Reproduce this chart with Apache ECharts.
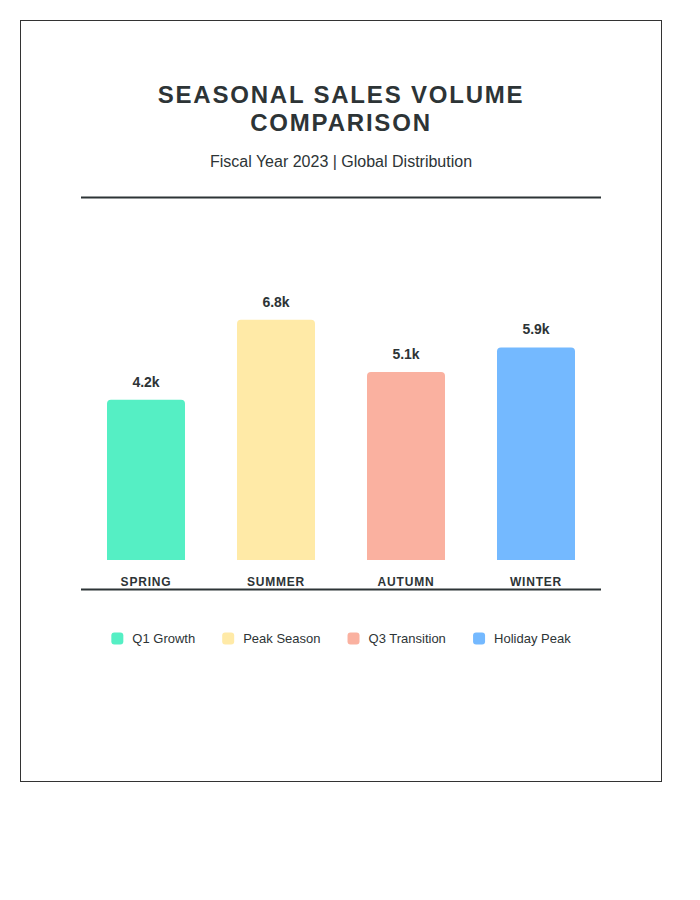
<!DOCTYPE html>
<html>
<head>
<meta charset="utf-8">
<script src="https://cdn.jsdelivr.net/npm/echarts@6/dist/echarts.min.js"></script>
<style>
  html, body { margin: 0; padding: 0; background: #ffffff; }
  #card { position: absolute; left: 20px; top: 20px; width: 640px; height: 760px; border: 1px solid #333333; background: #fff; }
  #chart { width: 640px; height: 760px; }
  /* letter-spaced headings, as in the reference */
  #chart text[style*="24px"] { letter-spacing: 1.8px; }
  #chart text[style*="12px"] { letter-spacing: 0.8px; }
</style>
</head>
<body>
<div id="card"><div id="chart"></div></div>
<script>
const TITLE = 'SEASONAL SALES VOLUME\nCOMPARISON';
const SUBTITLE = 'Fiscal Year 2023 | Global Distribution';
const seasons = ['SPRING', 'SUMMER', 'AUTUMN', 'WINTER'];
const seriesNames = ['Q1 Growth', 'Peak Season', 'Q3 Transition', 'Holiday Peak'];
const salesK = [4.2, 6.8, 5.1, 5.9];
const colors = ['#55efc4', '#ffeaa7', '#fab1a0', '#74b9ff'];
const Y_MIN = -1;
const Y_MAX = 9;

const FONT = '"Liberation Sans", Arial, Helvetica, sans-serif';
const DARK = '#2d3436';

const chart = echarts.init(document.getElementById('chart'), null, { renderer: 'svg' });

function makeRender(color) {
  return function (params, api) {
    const idx = api.value(0);
    const val = api.value(1);
    const top = api.coord([idx, val]);
    const base = api.coord([idx, Y_MIN]);
    const w = api.size([1, 0])[0] * 0.6;
    return {
      type: 'group',
      children: [
        {
          type: 'rect',
          shape: { x: top[0] - w / 2, y: top[1], width: w, height: base[1] - top[1], r: [4, 4, 0, 0] },
          style: { fill: color }
        },
        {
          type: 'text',
          style: {
            text: val + 'k',
            x: top[0],
            y: top[1] - 11,
            align: 'center',
            verticalAlign: 'bottom',
            fill: DARK,
            font: 'bold 14px ' + FONT
          }
        }
      ]
    };
  };
}

const series = seriesNames.map((name, i) => ({
  name: name,
  type: 'custom',
  itemStyle: { color: colors[i] },
  encode: { x: 0, y: 1 },
  data: [[i, salesK[i]]],
  renderItem: makeRender(colors[i])
}));

chart.setOption({
  animation: false,
  backgroundColor: '#ffffff',
  textStyle: { fontFamily: FONT },
  title: [
    {
      text: TITLE,
      left: 'center',
      top: 54,
      textStyle: { fontSize: 24, fontWeight: 'bold', color: DARK, lineHeight: 28, fontFamily: FONT }
    },
    {
      text: SUBTITLE,
      left: 'center',
      top: 125,
      textStyle: { fontSize: 16, fontWeight: 'normal', color: DARK, lineHeight: 20, fontFamily: FONT }
    }
  ],
  graphic: [
    { type: 'line', shape: { x1: 60, y1: 176.5, x2: 580, y2: 176.5 }, style: { stroke: DARK, lineWidth: 2 } },
    { type: 'line', shape: { x1: 60, y1: 568.5, x2: 580, y2: 568.5 }, style: { stroke: DARK, lineWidth: 2 } }
  ],
  legend: {
    data: seriesNames,
    left: 'center',
    top: 606,
    icon: 'roundRect',
    itemWidth: 12,
    itemHeight: 12,
    itemGap: 27,
    textStyle: { fontSize: 13, color: DARK, fontFamily: FONT, padding: [0, 0, 0, 4] }
  },
  grid: { left: 60, right: 60, top: 231, bottom: 221, containLabel: false },
  xAxis: {
    type: 'category',
    data: seasons,
    axisLine: { show: false },
    axisTick: { show: false },
    axisLabel: { margin: 16, fontSize: 12, fontWeight: 'bold', color: DARK, fontFamily: FONT },
    splitLine: { show: false }
  },
  yAxis: {
    type: 'value',
    min: Y_MIN,
    max: Y_MAX,
    show: false,
    splitLine: { show: false }
  },
  series: series
});
</script>
</body>
</html>
